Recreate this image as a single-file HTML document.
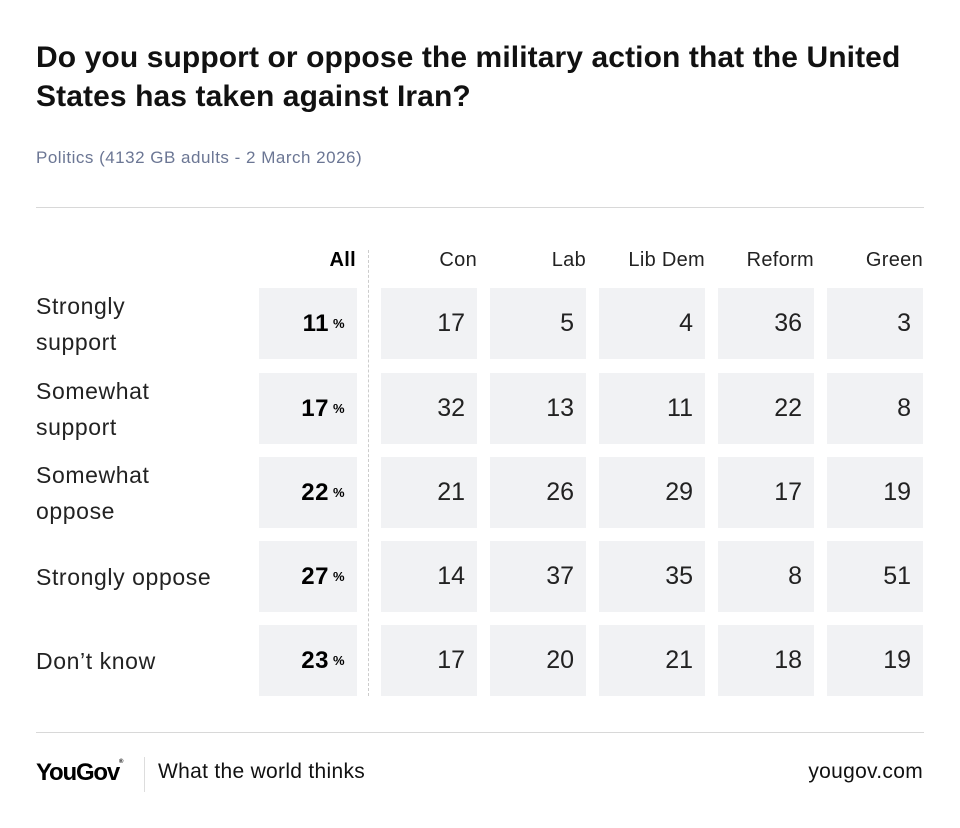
<!DOCTYPE html>
<html><head><meta charset="utf-8"><style>
*{margin:0;padding:0;box-sizing:border-box}
body{width:960px;height:828px;background:#fff;font-family:"Liberation Sans",sans-serif;color:#111;position:relative;overflow:hidden}
.a{position:absolute}
h1{position:absolute;left:36px;top:38px;width:910px;font-size:30px;line-height:39px;font-weight:bold;letter-spacing:0.1px}
.sub{left:36px;top:148px;font-size:17px;color:#6b7694;letter-spacing:0.5px}
.hr{left:36px;width:888px;height:1px;background:#d8d8d8}
.hd{top:249px;font-size:20px;text-align:right;color:#222;letter-spacing:0.3px}
.cell{background:#f1f2f4;height:71px;display:flex;align-items:center;justify-content:flex-end;padding-right:12px;font-size:25px;color:#222}
.lab{left:36px;font-size:23px;line-height:36px;display:flex;align-items:center;height:71px;color:#222;letter-spacing:0.6px}
.all{font-weight:bold;font-size:24px;color:#000;letter-spacing:0.5px}
.all small{font-size:13px;margin-left:4px;font-weight:bold}
</style></head><body>
<h1>Do you support or oppose the military action that the United States has taken against Iran?</h1>
<div class="a sub">Politics (4132 GB adults - 2 March 2026)</div>
<div class="a hr" style="top:207px"></div>
<div class="a" style="left:368px;top:250px;height:446px;border-left:1px dashed #ccc"></div>
<div class="a hd" style="left:259px;width:97px;font-weight:bold;color:#000">All</div>
<div class="a hd" style="left:381px;width:96px">Con</div>
<div class="a hd" style="left:490px;width:96px">Lab</div>
<div class="a hd" style="left:599px;width:106px">Lib Dem</div>
<div class="a hd" style="left:718px;width:96px">Reform</div>
<div class="a hd" style="left:827px;width:96px">Green</div>
<div id="rows"></div>
<div class="a hr" style="top:732px"></div>
<div class="a" style="left:36px;top:759px;font-size:24px;font-weight:bold;letter-spacing:-1.2px;color:#000">YouGov<span style="font-size:6px;vertical-align:top">®</span></div>
<div class="a" style="left:144px;top:757px;width:1px;height:35px;background:#ddd"></div>
<div class="a" style="left:158px;top:760px;font-size:21px;color:#111;letter-spacing:0.3px">What the world thinks</div>
<div class="a" style="right:37px;top:760px;font-size:21px;color:#111;letter-spacing:0.3px">yougov.com</div>
<script>
var rows=[["Strongly<br>support",11,[17,5,4,36,3]],["Somewhat<br>support",17,[32,13,11,22,8]],["Somewhat<br>oppose",22,[21,26,29,17,19]],["Strongly oppose",27,[14,37,35,8,51]],["Don’t know",23,[17,20,21,18,19]]];
var cols=[[381,96],[490,96],[599,106],[718,96],[827,96]];
var tops=[288,373,457,541,625],h="";
rows.forEach(function(r,i){var t=tops[i];
h+='<div class="a lab" style="top:'+t+'px"><span>'+r[0]+'</span></div>';
h+='<div class="a cell all" style="left:259px;width:98px;top:'+t+'px">'+r[1]+'<small>%</small></div>';
r[2].forEach(function(v,j){h+='<div class="a cell" style="left:'+cols[j][0]+'px;width:'+cols[j][1]+'px;top:'+t+'px">'+v+'</div>';});});
document.getElementById('rows').innerHTML=h;
</script>
</body></html>
